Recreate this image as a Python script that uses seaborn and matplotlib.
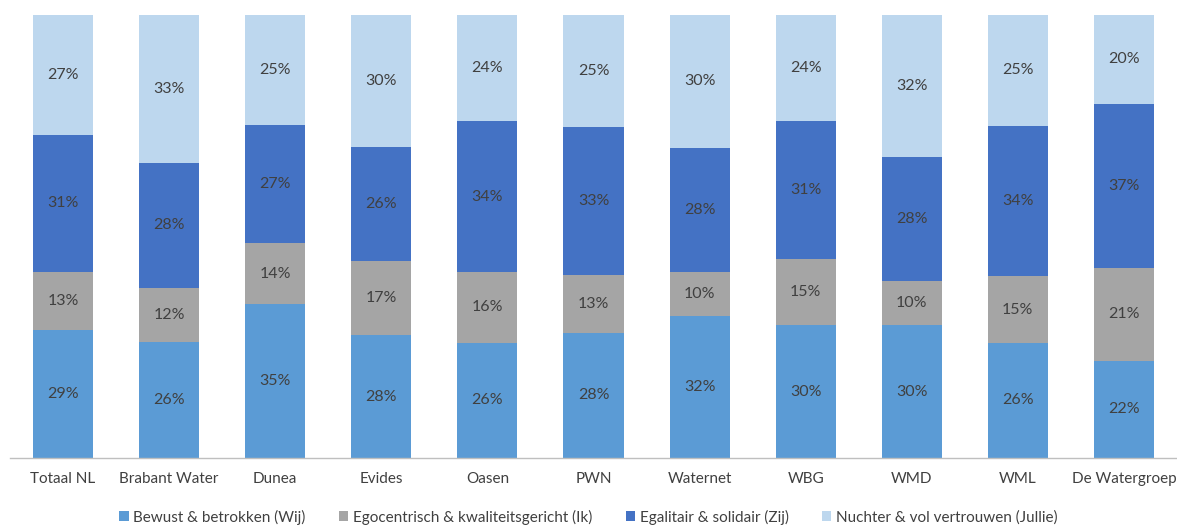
import numpy as np
import pandas as pd
import matplotlib
matplotlib.use("Agg")
import matplotlib.pyplot as plt
import seaborn as sns
from matplotlib.patches import Patch

categories = ["Totaal NL", "Brabant Water", "Dunea", "Evides", "Oasen", "PWN",
              "Waternet", "WBG", "WMD", "WML", "De Watergroep"]
wij = [29, 26, 35, 28, 26, 28, 32, 30, 30, 26, 22]
ik = [13, 12, 14, 17, 16, 13, 10, 15, 10, 15, 21]
zij = [31, 28, 27, 26, 34, 33, 28, 31, 28, 34, 37]
jullie = [27, 33, 25, 30, 24, 25, 30, 24, 32, 25, 20]
series_names = ["Bewust & betrokken (Wij)", "Egocentrisch & kwaliteitsgericht (Ik)",
                "Egalitair & solidair (Zij)", "Nuchter & vol vertrouwen (Jullie)"]
colors = ["#5B9BD5", "#A5A5A5", "#4472C4", "#BDD7EE"]

sns.set_theme(style="white")
plt.rcParams["font.family"] = ["Lato", "DejaVu Sans"]

vals = np.array([wij, ik, zij, jullie], dtype=float)
totals = vals.sum(axis=0)
shares = vals / totals
cum = np.cumsum(shares, axis=0)

fig = plt.figure(figsize=(11.77, 5.27), dpi=100)
ax = fig.add_axes([10 / 1177, 69 / 527, 1167 / 1177, 443 / 527])

# draw cumulative bars from top series down (overlay stacking)
for i in range(3, -1, -1):
    df = pd.DataFrame({"cat": categories, "val": cum[i]})
    sns.barplot(data=df, x="cat", y="val", color=colors[i], width=0.566,
                saturation=1, ax=ax, errorbar=None, order=categories,
                linewidth=0, edgecolor="none")

for j in range(len(categories)):
    for i in range(4):
        bottom = cum[i - 1][j] if i > 0 else 0.0
        mid = bottom + shares[i][j] / 2
        ax.text(j, mid, f"{int(vals[i][j])}%", ha="center", va="center",
                fontsize=11.5, color="#404040")

ax.set_ylim(0, 1)
ax.set_xlim(-0.5, len(categories) - 0.5)
ax.set_yticks([])
ax.set_xlabel("")
ax.set_ylabel("")
for s in ["top", "right", "left"]:
    ax.spines[s].set_visible(False)
ax.spines["bottom"].set_color("#BFBFBF")
ax.spines["bottom"].set_linewidth(1)
ax.tick_params(axis="x", length=0, pad=10, labelsize=11, labelcolor="#404040")

handles = [Patch(facecolor=c, edgecolor="none") for c in colors]
fig.legend(handles, series_names, loc="center", bbox_to_anchor=(0.5, 10 / 527),
           ncol=4, frameon=False, fontsize=11, labelcolor="#404040",
           handlelength=0.6, handleheight=0.6, handletextpad=0.3, columnspacing=2.2)

fig.savefig("out.png", dpi=100)
